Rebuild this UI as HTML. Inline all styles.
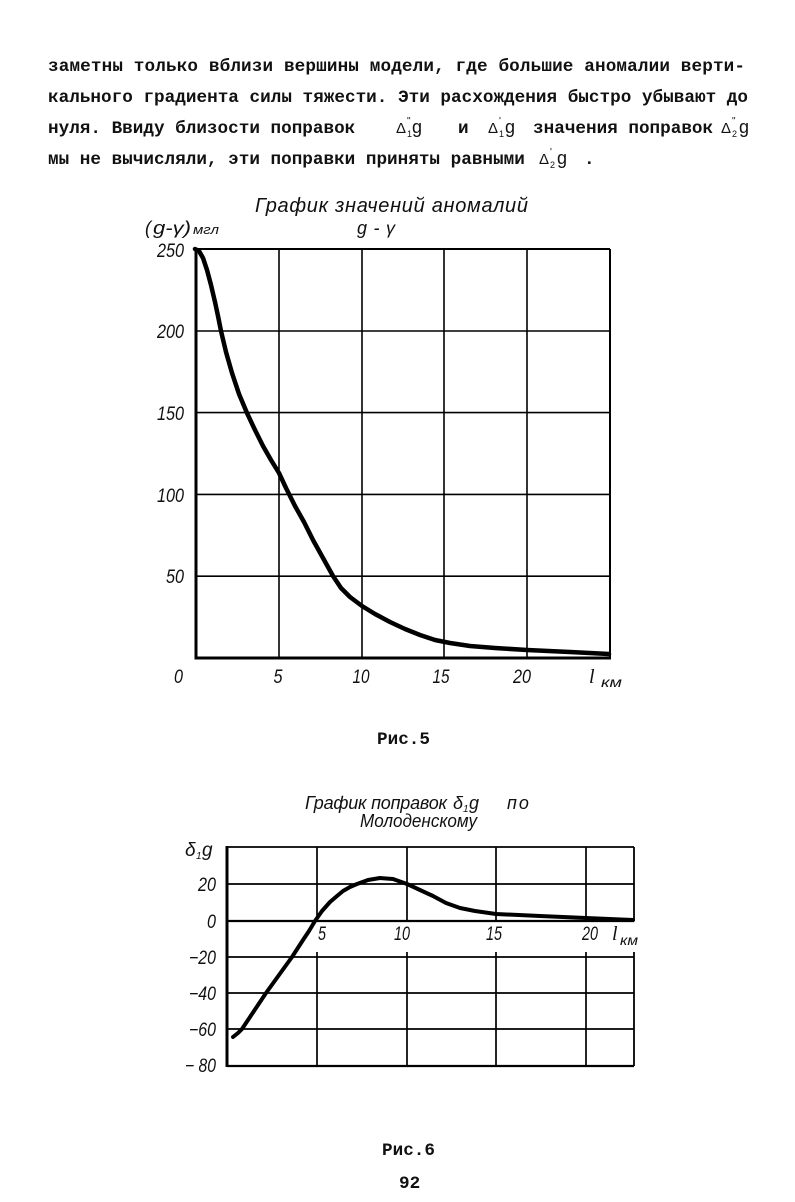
<!DOCTYPE html>
<html><head><meta charset="utf-8"><style>
html,body{margin:0;padding:0;background:#fff;}
svg{display:block;}
.p{font-family:"Liberation Mono","DejaVu Sans Mono",monospace;font-size:17.67px;font-weight:bold;fill:#111;}
.d{font-family:"Liberation Sans",sans-serif;fill:#111;}
.l{font-family:"Liberation Sans","DejaVu Sans",sans-serif;font-style:italic;fill:#111;}
.s{font-family:"Liberation Serif",serif;font-style:italic;fill:#111;}
</style></head><body>
<svg width="795" height="1202" viewBox="0 0 795 1202" xmlns="http://www.w3.org/2000/svg">
<rect width="795" height="1202" fill="#fff"/>

<!-- paragraph -->
<text class="p" x="48" y="71" textLength="697" lengthAdjust="spacing">заметны только вблизи вершины модели, где большие аномалии верти-</text>
<text class="p" x="48" y="102" textLength="700" lengthAdjust="spacing">кального градиента силы тяжести. Эти расхождения быстро убывают до</text>
<text class="p" x="48" y="133">нуля. Ввиду близости поправок</text>
<text class="d" x="396" y="133" font-size="15">Δ</text>
<text class="d" x="407" y="124" font-size="10">"</text>
<text class="d" x="407" y="137" font-size="9">1</text>
<text class="d" x="412" y="133" font-size="18">g</text>
<text class="p" x="458" y="133">и</text>
<text class="d" x="488" y="133" font-size="15">Δ</text>
<text class="d" x="499" y="124" font-size="10">'</text>
<text class="d" x="499" y="137" font-size="9">1</text>
<text class="d" x="505" y="133" font-size="18">g</text>
<text class="p" x="533" y="133">значения поправок</text>
<text class="d" x="721" y="133" font-size="15">Δ</text>
<text class="d" x="732" y="124" font-size="10">"</text>
<text class="d" x="732" y="137" font-size="9">2</text>
<text class="d" x="739" y="133" font-size="18">g</text>
<text class="p" x="48" y="164">мы не вычисляли, эти поправки приняты равными</text>
<text class="d" x="539" y="164" font-size="15">Δ</text>
<text class="d" x="550" y="155" font-size="10">'</text>
<text class="d" x="550" y="168" font-size="9">2</text>
<text class="d" x="557" y="164" font-size="18">g</text>
<text class="p" x="584" y="164">.</text>

<!-- CHART 1 -->
<text class="l" x="255" y="212" font-size="20" textLength="273" lengthAdjust="spacing">График значений аномалий</text>
<text class="l" x="145" y="234" font-size="18">(</text>
<text class="l" x="153" y="234" font-size="18" textLength="38" lengthAdjust="spacingAndGlyphs">g-γ)</text>
<text class="l" x="193" y="234" font-size="13" textLength="26" lengthAdjust="spacingAndGlyphs">мгл</text>
<text class="l" x="357" y="234" font-size="18" textLength="38" lengthAdjust="spacing">g - γ</text>

<g stroke="#000" fill="none">
  <g stroke-width="1.6">
    <line x1="279" y1="249" x2="279" y2="658"/>
    <line x1="362" y1="249" x2="362" y2="658"/>
    <line x1="444" y1="249" x2="444" y2="658"/>
    <line x1="527" y1="249" x2="527" y2="658"/>
    <line x1="196" y1="331" x2="610" y2="331"/>
    <line x1="196" y1="412.6" x2="610" y2="412.6"/>
    <line x1="196" y1="494.4" x2="610" y2="494.4"/>
    <line x1="196" y1="576.2" x2="610" y2="576.2"/>
  </g>
  <line x1="196" y1="249" x2="610" y2="249" stroke-width="2"/>
  <line x1="610" y1="249" x2="610" y2="658" stroke-width="2"/>
  <line x1="196" y1="248" x2="196" y2="659.5" stroke-width="3"/>
  <line x1="194.5" y1="658" x2="611" y2="658" stroke-width="3"/>
  <polyline stroke-width="4.5" stroke-linejoin="round" stroke-linecap="round" points="195,249 199,251 203,258 207,270 211,285 215,302 218,316 221,331 226,352 232,373 239,394 247,413 255,430 263,446 271,460 279,473 286,488 295,506 304,522 313,540 323,558 333,576 341,588 350,597 362,606 375,614 390,622 405,629 420,635 435,640 450,643 470,646 495,648 527,650 570,652 609,654"/>
</g>

<g class="l" font-size="19" text-anchor="end">
  <text x="184" y="257" textLength="27" lengthAdjust="spacingAndGlyphs">250</text>
  <text x="184" y="338" textLength="27" lengthAdjust="spacingAndGlyphs">200</text>
  <text x="184" y="420" textLength="27" lengthAdjust="spacingAndGlyphs">150</text>
  <text x="184" y="502" textLength="27" lengthAdjust="spacingAndGlyphs">100</text>
  <text x="184" y="583" textLength="18" lengthAdjust="spacingAndGlyphs">50</text>
  <text x="183" y="683" textLength="9" lengthAdjust="spacingAndGlyphs">0</text>
</g>
<g class="l" font-size="19" text-anchor="middle">
  <text x="278" y="683" textLength="9" lengthAdjust="spacingAndGlyphs">5</text>
  <text x="361" y="683" textLength="17" lengthAdjust="spacingAndGlyphs">10</text>
  <text x="441" y="683" textLength="17" lengthAdjust="spacingAndGlyphs">15</text>
  <text x="522" y="683" textLength="18" lengthAdjust="spacingAndGlyphs">20</text>
</g>
<text class="s" x="589" y="683" font-size="20">l</text>
<text class="l" x="601" y="687" font-size="14" textLength="21" lengthAdjust="spacingAndGlyphs">км</text>

<text class="p" x="377" y="744">Рис.5</text>

<!-- CHART 2 -->
<text class="l" x="305" y="809" font-size="18" textLength="142" lengthAdjust="spacing">График поправок</text>
<text class="l" x="453" y="809" font-size="18">δ</text>
<text class="l" x="463" y="812" font-size="10">1</text>
<text class="l" x="469" y="809" font-size="18">g</text>
<text class="l" x="507" y="809" font-size="18" letter-spacing="2">по</text>
<text class="l" x="360" y="827" font-size="18" textLength="117" lengthAdjust="spacingAndGlyphs">Молоденскому</text>

<g stroke="#000" fill="none">
  <g stroke-width="1.7">
    <line x1="317" y1="847" x2="317" y2="921"/>
    <line x1="407" y1="847" x2="407" y2="921"/>
    <line x1="496" y1="847" x2="496" y2="921"/>
    <line x1="586" y1="847" x2="586" y2="921"/>
    <line x1="317" y1="952" x2="317" y2="1066"/>
    <line x1="407" y1="952" x2="407" y2="1066"/>
    <line x1="496" y1="952" x2="496" y2="1066"/>
    <line x1="586" y1="952" x2="586" y2="1066"/>
    <line x1="227" y1="884" x2="634" y2="884"/>
    <line x1="227" y1="957" x2="634" y2="957"/>
    <line x1="227" y1="993" x2="634" y2="993"/>
    <line x1="227" y1="1029" x2="634" y2="1029"/>
  </g>
  <line x1="227" y1="847" x2="634" y2="847" stroke-width="1.8"/>
  <line x1="634" y1="847" x2="634" y2="921" stroke-width="1.8"/>
  <line x1="634" y1="952" x2="634" y2="1066" stroke-width="1.8"/>
  <line x1="227" y1="921" x2="634" y2="921" stroke-width="2.2"/>
  <line x1="227" y1="1066" x2="634" y2="1066" stroke-width="2.2"/>
  <line x1="227" y1="846" x2="227" y2="1067" stroke-width="3"/>
  <polyline stroke-width="4" stroke-linejoin="round" stroke-linecap="round" points="233,1037 238,1033 242,1029 248,1020 254,1011 260,1002 266,993 279,975 292,957 303,940 309,931 315,921 322,911 330,902 337,896 343,891 350,887 357,884 368,880 380,878 393,879 407,884 420,890 433,896 446,903 460,908 475,911 496,914 540,916 586,918 633,920"/>
</g>

<text class="l" x="185" y="856" font-size="19">δ</text>
<text class="l" x="196" y="859" font-size="10">1</text>
<text class="l" x="202" y="856" font-size="19">g</text>
<g class="l" font-size="19" text-anchor="end">
  <text x="216" y="891" textLength="18" lengthAdjust="spacingAndGlyphs">20</text>
  <text x="216" y="928" textLength="9" lengthAdjust="spacingAndGlyphs">0</text>
  <text x="216" y="964" textLength="27" lengthAdjust="spacingAndGlyphs">−20</text>
  <text x="216" y="1000" textLength="27" lengthAdjust="spacingAndGlyphs">−40</text>
  <text x="216" y="1036" textLength="27" lengthAdjust="spacingAndGlyphs">−60</text>
  <text x="216" y="1072" textLength="31" lengthAdjust="spacingAndGlyphs">− 80</text>
</g>
<g class="l" font-size="19">
  <text x="318" y="940" textLength="8" lengthAdjust="spacingAndGlyphs">5</text>
  <text x="394" y="940" textLength="16" lengthAdjust="spacingAndGlyphs">10</text>
  <text x="486" y="940" textLength="16" lengthAdjust="spacingAndGlyphs">15</text>
  <text x="582" y="940" textLength="16" lengthAdjust="spacingAndGlyphs">20</text>
</g>
<text class="s" x="612" y="940" font-size="20">l</text>
<text class="l" x="620" y="945" font-size="14" textLength="18" lengthAdjust="spacingAndGlyphs">км</text>

<text class="p" x="382" y="1155">Рис.6</text>
<text class="p" x="399" y="1188">92</text>
</svg>
</body></html>
